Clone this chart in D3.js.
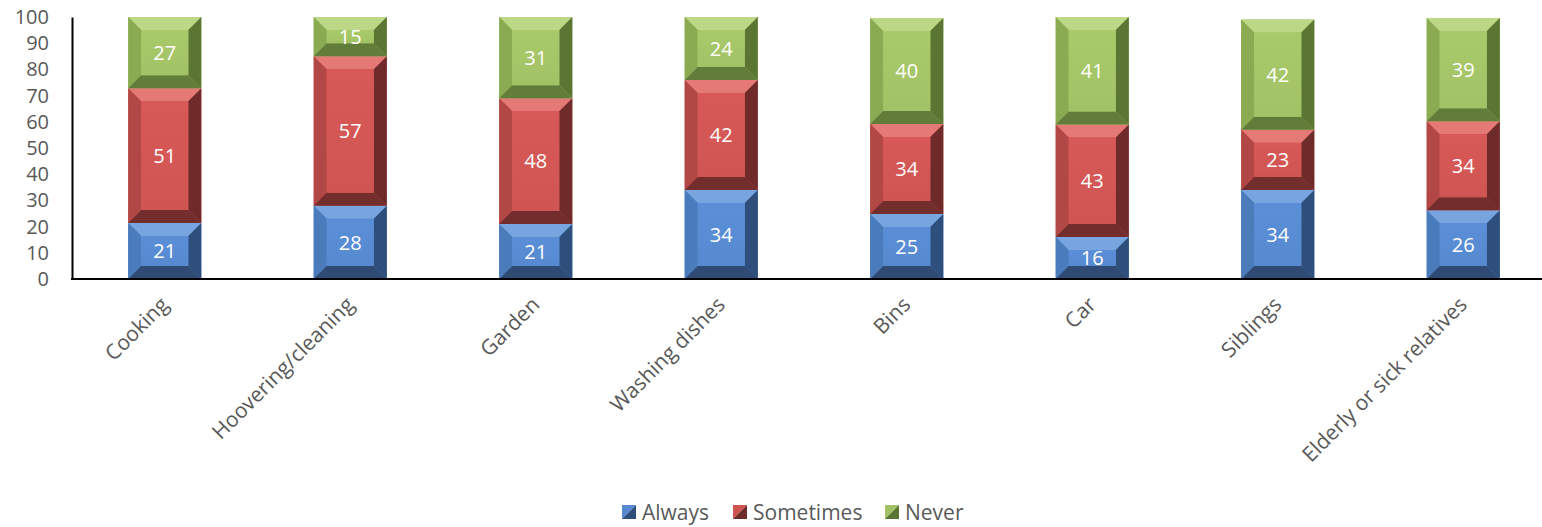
<!DOCTYPE html>
<html><head><meta charset="utf-8">
<script src="https://cdn.jsdelivr.net/npm/d3@7"></script>
<style>body{margin:0;background:#fff}svg{display:block}</style>
</head><body>
<script>
const categories = ["Cooking","Hoovering/cleaning","Garden","Washing dishes","Bins","Car","Siblings","Elderly or sick relatives"];
const seriesNames = ["Always","Sometimes","Never"];
const always    = [21.4, 28, 21, 34, 24.8, 16, 34, 26.2];
const sometimes = [51.4, 57, 48, 42, 34.4, 43, 23, 34.0];
const never     = [27.2, 15, 31, 24, 40.4, 41, 42, 39.4];
const yTicks = [0,10,20,30,40,50,60,70,80,90,100];

const W = 1542, H = 527;
const palette = {
  Always:    {c:"#5689cf", top:"#78a4df", left:"#4a7bbb", right:"#2e4f7c", bottom:"#2f4b74"},
  Sometimes: {c:"#cf5553", top:"#e57976", left:"#b24845", right:"#6f2b2a", bottom:"#722d2c"},
  Never:     {c:"#a2c266", top:"#bcd886", left:"#8aab52", right:"#5b7633", bottom:"#627c39"}
};
const FONT = "'Open Sans', sans-serif";

const svg = d3.select("body").append("svg").attr("width", W).attr("height", H);

const x = d3.scaleBand().domain(categories).range([72, 72 + 8*185.5]).paddingInner(0.606).paddingOuter(0.303);
const y = d3.scaleLinear().domain([0,100]).range([279, 17]);

const rows = categories.map((c,i)=>({cat:c, Always:always[i], Sometimes:sometimes[i], Never:never[i]}));
const stacked = d3.stack().keys(seriesNames)(rows);

const defs = svg.append("defs");
seriesNames.forEach(k=>{
  const p = palette[k];
  const g = defs.append("linearGradient").attr("id","g"+k).attr("x1",0).attr("y1",0).attr("x2",0).attr("y2",1);
  g.append("stop").attr("offset","0%").attr("stop-color", d3.color(p.c).brighter(0.12));
  g.append("stop").attr("offset","100%").attr("stop-color", p.c);
});

const bars = svg.append("g");
stacked.forEach(layer=>{
  const k = layer.key, p = palette[k];
  layer.forEach((d,i)=>{
    const x0 = x(categories[i]), x1 = x0 + x.bandwidth();
    const yt = y(d[1]), yb = y(d[0]);
    const b = Math.min(13, (yb-yt)/2.8, (x1-x0)/4);
    const g = bars.append("g");
    const poly = pts => g.append("polygon").attr("points", pts.map(q=>q.join(",")).join(" "));
    poly([[x0,yt],[x1,yt],[x1,yb],[x0,yb]]).attr("fill", p.c);
    poly([[x0,yt],[x1,yt],[x1-b,yt+b],[x0+b,yt+b]]).attr("fill", p.top);
    poly([[x0,yt],[x0+b,yt+b],[x0+b,yb-b],[x0,yb]]).attr("fill", p.left);
    poly([[x1,yt],[x1,yb],[x1-b,yb-b],[x1-b,yt+b]]).attr("fill", p.right);
    poly([[x0,yb],[x0+b,yb-b],[x1-b,yb-b],[x1,yb]]).attr("fill", p.bottom);
    poly([[x0+b,yt+b],[x1-b,yt+b],[x1-b,yb-b],[x0+b,yb-b]]).attr("fill", `url(#g${k})`);
    g.append("text").attr("x",(x0+x1)/2).attr("y",(yt+yb)/2).attr("dy","0.36em")
      .attr("text-anchor","middle").attr("fill","#fff").attr("font-family",FONT).attr("font-size",20)
      .text(d3.format(".0f")(d[1]-d[0]));
  });
});

// axes
const yAxis = svg.append("g").attr("transform","translate(72,0)")
  .call(d3.axisLeft(y).tickValues(yTicks).tickSize(0).tickPadding(23));
yAxis.select(".domain").attr("stroke","#000").attr("stroke-width",2);
yAxis.selectAll("text").attr("font-family",FONT).attr("font-size",20).attr("fill","#595959");

const xAxis = svg.append("g").attr("transform","translate(0,279)")
  .call(d3.axisBottom(x).tickSize(0).tickPadding(0));
xAxis.select(".domain").attr("stroke","#000").attr("stroke-width",2).attr("d",`M71,0H${W}`);
xAxis.selectAll("text").attr("font-family",FONT).attr("font-size",21).attr("fill","#595959")
  .attr("text-anchor","end").attr("dy",0)
  .attr("transform","translate(5,27) rotate(-45)");

// legend
const legendX = [622, 733, 885];
const lg = svg.append("g");
seriesNames.forEach((k,i)=>{
  const p = palette[k], lx = legendX[i], ly = 505;
  lg.append("polygon").attr("points",`${lx},${ly} ${lx+14},${ly} ${lx},${ly+14}`).attr("fill",p.c);
  lg.append("polygon").attr("points",`${lx+14},${ly} ${lx+14},${ly+14} ${lx},${ly+14}`).attr("fill",p.right);
  lg.append("text").attr("x",lx+20).attr("y",ly+7).attr("dy","0.36em").attr("font-family",FONT)
    .attr("font-size",21).attr("fill","#595959").text(k);
});
</script>
</body></html>
